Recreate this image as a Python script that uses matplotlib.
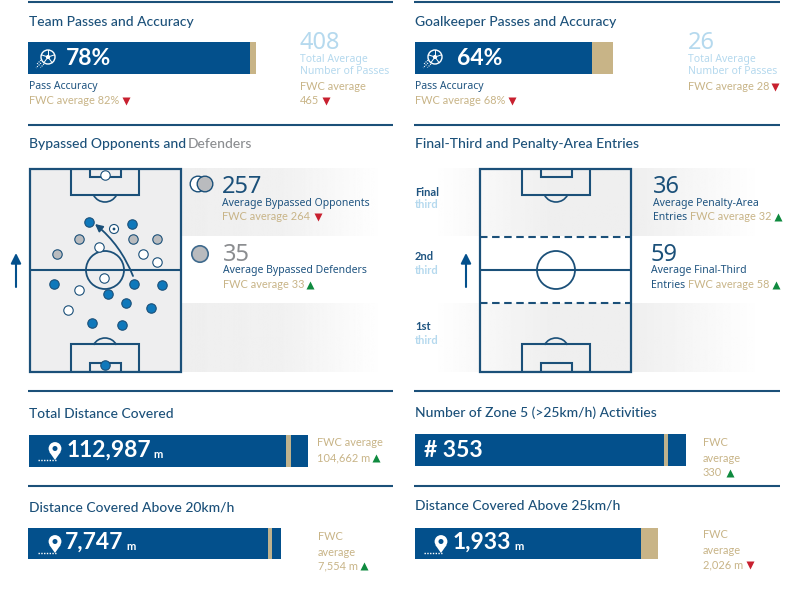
import numpy as np
import matplotlib
matplotlib.use("Agg")
import matplotlib.pyplot as plt
from matplotlib.patches import Rectangle, Circle, Arc, FancyArrowPatch, Polygon

# ---- data ----
pass_accuracy = [78, 64]
pass_accuracy_avg = [82, 68]
total_passes = [408, 26]
total_passes_avg = [465, 28]
bypassed_opponents, bypassed_opponents_avg = 257, 264
bypassed_defenders, bypassed_defenders_avg = 35, 33
penalty_entries, penalty_entries_avg = 36, 32
final_third_entries, final_third_entries_avg = 59, 58
distance_values = [112987, 7747, 353, 1933]
distance_avgs = [104662, 7554, 330, 2026]
blue_x = [25, 60, 79, 63, 97, 93, 105, 122, 133, 103, 76]
blue_y = [116, 54, 126, 155, 135, 157, 116, 140, 117, 56, 197]
grey_x = [28, 50, 104, 128]
grey_y = [86, 71, 71, 71]
white_x = [70, 114, 128, 75, 50, 39, 76]
white_y = [79, 86, 94, 110, 122, 142, 7]

NAVY = "#1b5079"; BAR = "#03508c"; GOLD = "#c8b487"; SKY = "#b5d9ee"
GREY = "#8b8d90"; RED = "#c8202f"; GREEN = "#0f8a3f"; BODY = "#1f5480"
W, H = 796, 589
plt.rcParams["font.family"] = ["Noto Sans", "DejaVu Sans"]
fig = plt.figure(figsize=(W / 100, H / 100), dpi=100, facecolor="white")
bg = fig.add_axes([0, 0, 1, 1], zorder=0)
bg.axis("off")
ax = fig.add_axes([0, 0, 1, 1], zorder=5)
ax.set_xlim(0, W); ax.set_ylim(H, 0); ax.axis("off")

def T(x, y, s, size=7.5, color=BODY, weight="normal", family=None, dy=None):
    if dy is None:
        dy = 1.8 if size > 12 else 0.3
    return ax.text(x, y + dy, s, fontsize=size, color=color, fontweight=weight,
                   family=family or ["Noto Sans", "DejaVu Sans"], va="center", ha="left", zorder=8)

def B(x, y, s, size=16.5, color="white"):
    return T(x, y, s, size=size, color=color, weight="bold", family=["Lato"], dy=0.5)

def title(x, y, s, color=NAVY):
    return T(x, y, s, size=10, color=color, family=["Lato"], weight="medium", dy=1)

def fwc(x, y, s):
    T(x, y, s, size=7.9, color=GOLD, family=["Lato"], dy=0)

def tri(x, y, value, avg):
    up = value >= avg
    ax.plot([x], [y], marker="^" if up else "v", ms=6, color=GREEN if up else RED, mec="none", zorder=8)

def sub_axes(x0, y0, x1, y1):
    a = fig.add_axes([x0 / W, 1 - y1 / H, (x1 - x0) / W, (y1 - y0) / H], zorder=2)
    a.axis("off")
    return a

def ball(x, y, r=7):
    ax.add_patch(Circle((x, y), r, fc="none", ec="white", lw=1, zorder=7))
    ax.add_patch(Circle((x, y), r * .3, fc="white", ec="none", zorder=7))
    for a in np.deg2rad([90, 162, 234, 306, 18]):
        ax.plot([x + r * .3 * np.cos(a), x + r * np.cos(a)], [y - r * .3 * np.sin(a), y - r * np.sin(a)],
                color="white", lw=.7, zorder=7)
    for dx, dy, l in [(-7, 3, 6), (-7, 6, 7), (-4, 7, 5)]:
        ax.plot([x + dx, x + dx - l * .7], [y + dy, y + dy + l * .7], color="white", lw=.8, ls=(0, (1, 1)), zorder=7)

def pin(x, y):
    ax.add_patch(Circle((x, y - 2.5), 6.4, fc="white", ec="none", zorder=7))
    ax.add_patch(Polygon([(x - 5.6, y + 1), (x + 5.6, y + 1), (x, y + 9)], fc="white", ec="none", zorder=7))
    ax.add_patch(Circle((x, y - 2.5), 2.5, fc=BAR, ec="none", zorder=7))
    ax.plot([x - 17, x + 1], [y + 9, y + 9], color="white", lw=1, ls=(0, (1, 1)), zorder=7)

# ---- rules ----
for x0, x1 in [(28, 393), (414, 780)]:
    for y in [2, 125, 391, 486]:
        ax.plot([x0, x1], [y, y], color=NAVY, lw=1.5, solid_capstyle="butt")

# ---- background bands ----
def band(x0, x1, y0, y1, stops):
    xs = np.linspace(0, 1, 256)
    vals = np.interp(xs, [s[0] for s in stops], [s[1] for s in stops])
    bg.imshow(vals[None, :], extent=[x0, x1, y1, y0], cmap="gray", vmin=0, vmax=1, aspect="auto", zorder=0)

band(181, 385, 168, 236, [(0, .935), (.5, .945), (1, 1)])
band(181, 385, 303, 372, [(0, .935), (.5, .945), (1, 1)])
band(430, 780, 168, 236, [(0, 1), (.35, .935), (.58, .935), (.95, 1), (1, 1)])
band(430, 780, 303, 372, [(0, 1), (.35, .935), (.58, .935), (.95, 1), (1, 1)])
bg.set_xlim(0, W); bg.set_ylim(H, 0)

# ---- value bars ----
def value_bar(rect, lo, hi, value, avg, tick_px=0):
    a = sub_axes(*rect)
    a.set_ylim(0, 1)
    if tick_px:
        a.barh(.5, value - lo, left=lo, height=1, color=BAR, lw=0)
        a.axvline(avg, color="#bfb28d", lw=tick_px * .72)
    else:
        a.barh(.5, avg - value, left=value, height=1, color=GOLD, lw=0)
        a.barh(.5, value - lo, left=lo, height=1, color=BAR, lw=0)
    a.set_xlim(lo, hi)
    return a

value_bar((28, 42, 256, 74), -70, pass_accuracy_avg[0], pass_accuracy[0], pass_accuracy_avg[0])
value_bar((415, 42, 613, 74), 30.3, pass_accuracy_avg[1], pass_accuracy[1], pass_accuracy_avg[1])
value_bar((29, 435, 308, 467), -6124, distance_values[0], distance_values[0], distance_avgs[0], 5)
value_bar((28, 528, 281, 559), 3308, distance_values[1], distance_values[1], distance_avgs[1], 4)
value_bar((415, 434, 686, 466), 41.35, distance_values[2], distance_values[2], distance_avgs[2], 4)
value_bar((415, 528, 658, 559), 697, distance_avgs[3], distance_values[3], distance_avgs[3])

# ---- top panels ----
for i, (x, x2, ttl) in enumerate([(29, 300, "Team Passes and Accuracy"), (415, 688, "Goalkeeper Passes and Accuracy")]):
    title(x, 21, ttl)
    B(x + 37 + (5 if i else 0), 58, f"{pass_accuracy[i]}%")
    ball(x + 20 - (1 if not i else 0), 57)
    T(x, 86, "Pass Accuracy")
    fwc(x, 101, f"FWC average {pass_accuracy_avg[i]}%")
    tri(x + 97, 101, pass_accuracy[i], pass_accuracy_avg[i])
    T(x2, 41, str(total_passes[i]), size=17, color=SKY)
    T(x2, 59, "Total Average", color=SKY)
    T(x2, 71, "Number of Passes", color=SKY)
fwc(300, 87, "FWC average")
fwc(300, 101, str(total_passes_avg[0]))
tri(326, 101, total_passes[0], total_passes_avg[0])
fwc(688, 87, f"FWC average {total_passes_avg[1]}")
tri(775, 87, total_passes[1], total_passes_avg[1])

# ---- pitches ----
def pitch(x0, fill=True):
    a = sub_axes(x0, 168, x0 + 152, 372)
    a.set_xlim(0, 152); a.set_ylim(204, 0)
    kw = dict(fc="none", ec=NAVY, lw=1.5, zorder=3)
    if fill:
        a.add_patch(Rectangle((0, 0), 152, 204, fc="#eeeeef", ec="none", zorder=0))
    a.add_patch(Rectangle((42, 0), 68, 27, **kw))
    a.add_patch(Rectangle((61, 0), 31, 8.5, **kw))
    a.add_patch(Rectangle((42, 176), 68, 28, **kw))
    a.add_patch(Rectangle((61, 195), 31, 9, **kw))
    a.add_patch(Arc((76, 21), 26, 26, theta1=28, theta2=152, ec=NAVY, lw=1.2, zorder=3))
    a.add_patch(Arc((76, 183), 26, 26, theta1=208, theta2=332, ec=NAVY, lw=1.2, zorder=3))
    a.add_patch(Circle((76, 102), 19, fc="none", ec=NAVY, lw=1.3, zorder=3))
    a.plot([0, 152], [102, 102], color=NAVY, lw=1.5, zorder=3)
    a.add_patch(Rectangle((.5, .5), 151, 203, fc="none", ec=NAVY, lw=1.6, zorder=4, clip_on=False))
    return a

p1 = pitch(29)
p1.scatter(blue_x, blue_y, s=46, fc="#0f78bb", ec=NAVY, lw=.8, zorder=5)
p1.scatter(grey_x, grey_y, s=46, fc="#b9bbbe", ec=NAVY, lw=.8, zorder=5)
p1.scatter(white_x, white_y, s=46, fc="white", ec=NAVY, lw=.8, zorder=5)
p1.add_patch(FancyArrowPatch((104, 108), (66, 56), connectionstyle="arc3,rad=0.13", arrowstyle="-|>",
                             mutation_scale=11, color=NAVY, lw=1.3, zorder=4, shrinkA=0, shrinkB=0))
p1.add_patch(Circle((85, 61), 4.5, fc="white", ec=NAVY, lw=.8, zorder=5))
p1.add_patch(Circle((85, 61), 1.4, fc=NAVY, ec="none", zorder=6))

p2 = pitch(480, fill=False)
for y in [68.5, 134.5]:
    p2.plot([0, 152], [y, y], color=NAVY, lw=1.5, ls=(0, (3.6, 2.2)), zorder=3)

for x in [16, 466]:
    ax.add_patch(FancyArrowPatch((x, 287), (x, 253), arrowstyle="-|>", mutation_scale=15, color=BAR, lw=1.5,
                                 shrinkA=0, shrinkB=0, zorder=6))

# ---- bypassed panel ----
title(29, 143, "Bypassed Opponents and ")
title(188, 143, "Defenders", color=GREY)
ax.add_patch(Circle((198, 184), 7.8, fc="white", ec=NAVY, lw=1, zorder=5))
ax.add_patch(Circle((205, 184), 7.8, fc="#b9bbbe", ec=NAVY, lw=1, zorder=6))
ax.add_patch(Circle((200, 254), 8.2, fc="#b9bbbe", ec="#3f6a8d", lw=1.2, zorder=6))
T(222, 185, str(bypassed_opponents), size=17, color=NAVY)
T(222, 203, "Average Bypassed Opponents")
fwc(222, 217, f"FWC average {bypassed_opponents_avg}")
tri(318, 217, bypassed_opponents, bypassed_opponents_avg)
T(223, 253, str(bypassed_defenders), size=17, color=GREY)
T(223, 270, "Average Bypassed Defenders")
fwc(223, 285, f"FWC average {bypassed_defenders_avg}")
tri(310, 285, bypassed_defenders, bypassed_defenders_avg)

# ---- entries panel ----
title(415, 143, "Final-Third and Penalty-Area Entries")
for y, first in [(192, "Final"), (257, "2nd"), (327, "1st")]:
    T(415, y, first, size=8, weight="bold", family=["Lato"], dy=0)
    T(415, y + 13, "third", size=8, color=SKY, weight="bold", family=["Lato"], dy=0)
T(653, 185, str(penalty_entries), size=17, color=NAVY)
T(653, 203, "Average Penalty-Area")
T(653, 217, "Entries")
fwc(690, 217, f"FWC average {penalty_entries_avg}")
tri(778, 217, penalty_entries, penalty_entries_avg)
T(651, 253, str(final_third_entries), size=17, color=NAVY)
T(651, 270, "Average Final-Third")
T(651, 285, "Entries")
fwc(688, 285, f"FWC average {final_third_entries_avg}")
tri(776, 285, final_third_entries, final_third_entries_avg)

# ---- distance panels ----
title(29, 413, "Total Distance Covered")
pin(55, 451)
B(67, 450, f"{distance_values[0]:,}")
B(153, 454, "m", size=8)
fwc(317, 443, "FWC average")
fwc(317, 458, f"{distance_avgs[0]:,} m")
tri(376, 458, distance_values[0], distance_avgs[0])

title(29, 507, "Distance Covered Above 20km/h")
pin(55, 544)
B(65, 542, f"{distance_values[1]:,}")
B(126, 546, "m", size=8)
fwc(318, 536, "FWC")
fwc(318, 552, "average")
fwc(318, 566, f"{distance_avgs[1]:,} m")
tri(364, 566, distance_values[1], distance_avgs[1])

title(415, 412, "Number of Zone 5 (>25km/h) Activities")
B(424, 450, f"# {distance_values[2]}")
fwc(703, 443, "FWC")
fwc(703, 459, "average")
fwc(703, 472, str(distance_avgs[2]))
tri(730, 473, distance_values[2], distance_avgs[2])

title(415, 505, "Distance Covered Above 25km/h")
pin(441, 544)
B(453, 542, f"{distance_values[3]:,}")
B(514, 546, "m", size=8)
fwc(703, 535, "FWC")
fwc(703, 551, "average")
fwc(703, 565, f"{distance_avgs[3]:,} m")
tri(750, 565, distance_values[3], distance_avgs[3])

fig.savefig("out.png", dpi=100, facecolor="white")
